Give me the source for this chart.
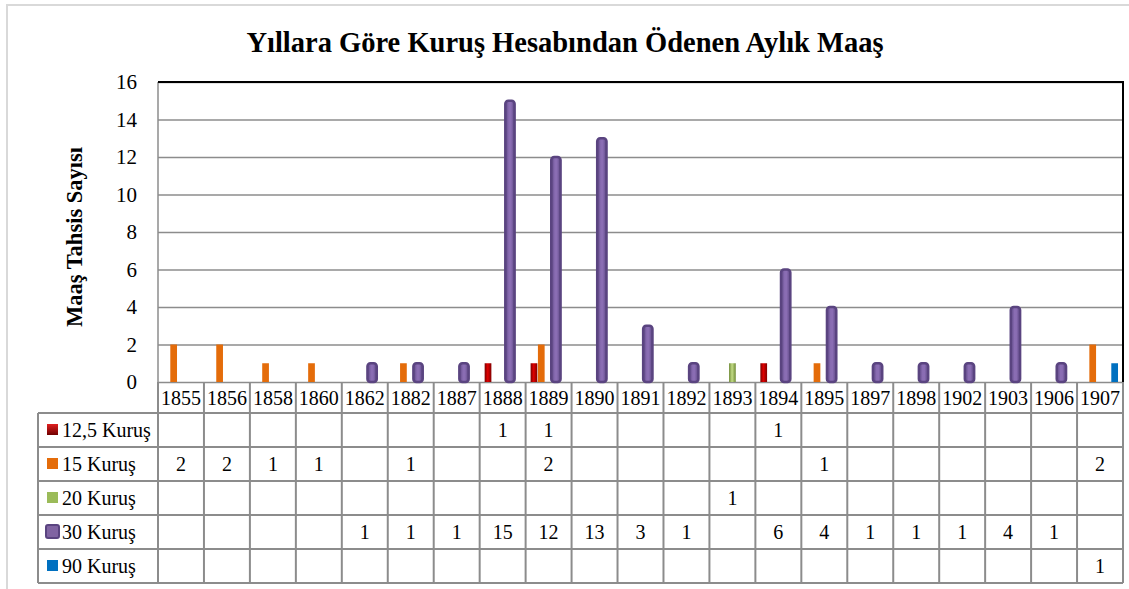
<!DOCTYPE html>
<html>
<head>
<meta charset="utf-8">
<script src="https://cdn.jsdelivr.net/npm/d3@7"></script>
<style>
  body { margin: 0; background: #fff; }
  text { font-family: "Liberation Serif", "DejaVu Serif", serif; fill: #000; }
</style>
</head>
<body>
<div id="chart"></div>
<script>
var years = ["1855", "1856", "1858", "1860", "1862", "1882", "1887", "1888", "1889", "1890", "1891",
  "1892", "1893", "1894", "1895", "1897", "1898", "1902", "1903", "1906", "1907"];
var seriesNames = ["12,5 Kuruş", "15 Kuruş", "20 Kuruş", "30 Kuruş", "90 Kuruş"];

// one value per year, null = empty cell
var kurus12 = [null, null, null, null, null, null, null, 1, 1, null, null, null, null, 1, null, null, null, null, null, null, null];
var kurus15 = [2, 2, 1, 1, null, 1, null, null, 2, null, null, null, null, null, 1, null, null, null, null, null, 2];
var kurus20 = [null, null, null, null, null, null, null, null, null, null, null, null, 1, null, null, null, null, null, null, null, null];
var kurus30 = [null, null, null, null, 1, 1, 1, 15, 12, 13, 3, 1, null, 6, 4, 1, 1, 1, 4, 1, null];
var kurus90 = [null, null, null, null, null, null, null, null, null, null, null, null, null, null, null, null, null, null, null, null, 1];
var yTicks = [0, 2, 4, 6, 8, 10, 12, 14, 16];

var seriesValues = [kurus12, kurus15, kurus20, kurus30, kurus90];
var seriesColors = ["url(#gRed)", "#e46c0a", "url(#gGreen)", "url(#gPurple)", "#0070c0"];
var keyColors = ["url(#kRed)", "#e46c0a", "#9bbb59", "#8064a2", "#0070c0"];

var width = 1129;
var height = 589;
var plotLeft = 158;
var plotRight = 1123;
var plotTop = 82;
var plotBottom = 382;
var headerBottom = 413;
var tableBottom = 583;
var tableLeft = 38;
var gridColor = "#8c8c8c";

var svg = d3
  .select("#chart")
  .append("svg")
  .attr("width", width)
  .attr("height", height);

var defs = svg.append("defs");
var addGradient = function(id, stops, vertical) {
  var g = defs
    .append("linearGradient")
    .attr("id", id)
    .attr("x1", "0%")
    .attr("x2", vertical ? "0%" : "100%")
    .attr("y1", "0%")
    .attr("y2", vertical ? "100%" : "0%");
  stops.forEach(function(s) {
    g.append("stop").attr("offset", s[0]).attr("stop-color", s[1]);
  });
};
addGradient("gRed", [["0%", "#7a0000"], ["45%", "#e00000"], ["100%", "#800000"]]);
addGradient("gGreen", [["0%", "#6f8a36"], ["45%", "#c3dc86"], ["100%", "#6f8a36"]]);
addGradient("gPurple", [["0%", "#5d4784"], ["40%", "#8a6db3"], ["60%", "#8a6db3"], ["100%", "#5d4784"]]);
addGradient("kRed", [["0%", "#e02020"], ["100%", "#700000"]], true);

// outer chart frame
svg
  .append("rect")
  .attr("x", 7)
  .attr("y", 5)
  .attr("width", 1140)
  .attr("height", 600)
  .attr("fill", "none")
  .attr("stroke", "#d9d9d9")
  .attr("stroke-width", 2);

var x = d3
  .scaleBand()
  .domain(years)
  .range([plotLeft, plotRight]);

var xSeries = d3
  .scaleBand()
  .domain(seriesNames)
  .range([0, x.bandwidth()])
  .paddingInner(0)
  .paddingOuter(0.64);

var y = d3
  .scaleLinear()
  .domain([0, 16])
  .range([plotBottom, plotTop]);

// gridlines
svg
  .append("g")
  .attr("class", "grid")
  .attr("transform", "translate(" + plotLeft + ",0)")
  .call(
    d3
      .axisLeft(y)
      .tickValues(yTicks)
      .tickSize(-(plotRight - plotLeft))
      .tickFormat("")
  )
  .call(function(g) {
    g.select(".domain").remove();
    g.selectAll("line")
      .attr("stroke", gridColor)
      .attr("stroke-width", 1.5);
  });

// y axis labels
svg
  .append("g")
  .attr("transform", "translate(" + (plotLeft - 21) + ",0)")
  .call(
    d3
      .axisLeft(y)
      .tickValues(yTicks)
      .tickSize(0)
      .tickPadding(0)
  )
  .call(function(g) {
    g.select(".domain").remove();
    g.selectAll("text")
      .style("font-family", "'Liberation Serif', serif")
      .style("font-size", "21px")
      .attr("dy", "0.33em");
  });

// plot borders
svg
  .append("line")
  .attr("x1", plotLeft)
  .attr("x2", plotLeft)
  .attr("y1", plotTop)
  .attr("y2", plotBottom)
  .attr("stroke", gridColor)
  .attr("stroke-width", 1.5);
svg
  .append("path")
  .attr("d", "M" + plotLeft + "," + plotTop + "H" + plotRight + "V" + plotBottom)
  .attr("fill", "none")
  .attr("stroke", "#000")
  .attr("stroke-width", 2);

// bars
var bars = [];
seriesNames.forEach(function(name, si) {
  seriesValues[si].forEach(function(v, yi) {
    if (v !== null) bars.push({ series: name, si: si, year: years[yi], value: v });
  });
});

svg
  .append("g")
  .selectAll("rect")
  .data(bars)
  .enter()
  .append("rect")
  .attr("x", function(d) {
    var bx = x(d.year) + xSeries(d.series);
    return d.si === 3 ? bx - 1 : bx + 0.3;
  })
  .attr("width", function(d) {
    return d.si === 3 ? xSeries.bandwidth() + 2 : xSeries.bandwidth() - 0.6;
  })
  .attr("y", function(d) {
    return y(d.value);
  })
  .attr("height", function(d) {
    return plotBottom - y(d.value);
  })
  .attr("rx", function(d) {
    return d.si === 3 ? 3 : 0;
  })
  .attr("fill", function(d) {
    return seriesColors[d.si];
  })
  .attr("stroke", function(d) {
    return d.si === 3 ? "#5a4480" : "none";
  })
  .attr("stroke-width", 2.5);

// data table
var rowY = d3
  .scaleBand()
  .domain(seriesNames)
  .range([headerBottom, tableBottom]);

var table = svg.append("g").attr("class", "table");
var lineColor = "#8c8c8c";

// horizontal lines
table
  .selectAll("line.h")
  .data(seriesNames.concat(["end"]))
  .enter()
  .append("line")
  .attr("x1", tableLeft)
  .attr("x2", plotRight)
  .attr("y1", function(d) {
    return d === "end" ? tableBottom : rowY(d);
  })
  .attr("y2", function(d) {
    return d === "end" ? tableBottom : rowY(d);
  })
  .attr("stroke", lineColor)
  .attr("stroke-width", 2);

// vertical lines
var colEdges = years.map(function(yr) {
  return x(yr);
});
colEdges.push(plotRight);
table
  .selectAll("line.v")
  .data(colEdges)
  .enter()
  .append("line")
  .attr("x1", function(d) {
    return d;
  })
  .attr("x2", function(d) {
    return d;
  })
  .attr("y1", plotBottom)
  .attr("y2", tableBottom)
  .attr("stroke", lineColor)
  .attr("stroke-width", 2);
table
  .append("line")
  .attr("x1", tableLeft)
  .attr("x2", tableLeft)
  .attr("y1", headerBottom)
  .attr("y2", tableBottom)
  .attr("stroke", lineColor)
  .attr("stroke-width", 2);

// year header
table
  .selectAll("text.year")
  .data(years)
  .enter()
  .append("text")
  .attr("class", "year")
  .attr("x", function(d) {
    return x(d) + x.bandwidth() / 2;
  })
  .attr("y", (plotBottom + headerBottom) / 2)
  .attr("dy", "0.35em")
  .attr("text-anchor", "middle")
  .style("font-size", "20px")
  .text(function(d) {
    return d;
  });

// row legend
var rowLabel = table
  .selectAll("g.row")
  .data(seriesNames)
  .enter()
  .append("g")
  .attr("class", "row")
  .attr("transform", function(d) {
    return "translate(0," + (rowY(d) + rowY.bandwidth() / 2) + ")";
  });

rowLabel
  .append("rect")
  .attr("x", function(d, i) {
    return i === 3 ? 46 : 47;
  })
  .attr("y", function(d, i) {
    return i === 3 ? -7 : -6;
  })
  .attr("width", function(d, i) {
    return i === 3 ? 13 : 11;
  })
  .attr("height", function(d, i) {
    return i === 3 ? 13 : 11;
  })
  .attr("rx", function(d, i) {
    return i === 3 ? 2 : 0;
  })
  .attr("fill", function(d, i) {
    return keyColors[i];
  })
  .attr("stroke", function(d, i) {
    return i === 3 ? "#5a4480" : "none";
  })
  .attr("stroke-width", 2);

rowLabel
  .append("text")
  .attr("x", 62)
  .attr("dy", "0.35em")
  .style("font-size", "20px")
  .text(function(d) {
    return d;
  });

// cell values
var cells = [];
seriesNames.forEach(function(name, si) {
  seriesValues[si].forEach(function(v, yi) {
    if (v !== null) cells.push({ series: name, year: years[yi], value: v });
  });
});
table
  .selectAll("text.cell")
  .data(cells)
  .enter()
  .append("text")
  .attr("class", "cell")
  .attr("x", function(d) {
    return x(d.year) + x.bandwidth() / 2;
  })
  .attr("y", function(d) {
    return rowY(d.series) + rowY.bandwidth() / 2;
  })
  .attr("dy", "0.35em")
  .attr("text-anchor", "middle")
  .style("font-size", "20px")
  .text(function(d) {
    return d.value;
  });

// titles
svg
  .append("text")
  .attr("x", 565)
  .attr("y", 52)
  .attr("text-anchor", "middle")
  .style("font-size", "28.5px")
  .style("font-weight", "bold")
  .text("Yıllara Göre Kuruş Hesabından Ödenen Aylık Maaş");

svg
  .append("text")
  .attr("transform", "translate(82,237) rotate(-90)")
  .attr("text-anchor", "middle")
  .style("font-size", "22.5px")
  .style("font-weight", "bold")
  .text("Maaş Tahsis Sayısı");
</script>
</body>
</html>
